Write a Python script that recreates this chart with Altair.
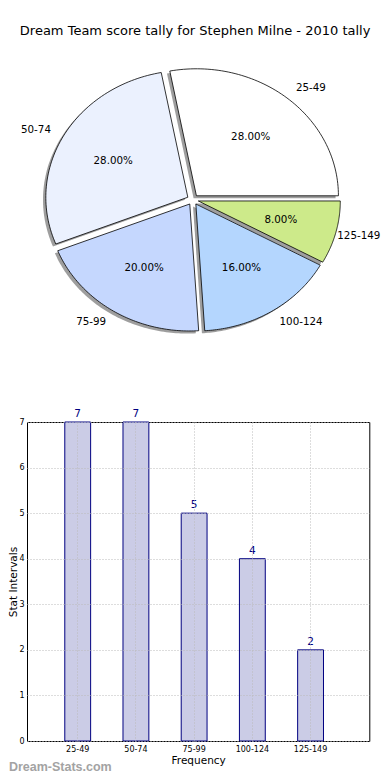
import altair as alt
import pandas as pd

# ---------------- data ----------------
title_text = "Dream Team score tally for Stephen Milne - 2010 tally"
categories = ["25-49", "50-74", "75-99", "100-124", "125-149"]
counts = [7, 7, 5, 4, 2]
slice_colors = ["#ffffff", "#ebf1fe", "#c5d7fe", "#b4d6fe", "#cdea8a"]
x_title = "Frequency"
y_title = "Stat Intervals"
y_ticks = [0, 1, 2, 3, 4, 5, 6, 7]
watermark = "Dream-Stats.com"

df = pd.DataFrame({"label": categories, "value": counts,
                   "idx": list(range(len(categories))), "color": slice_colors})

# ---------------- layout / style ----------------
FONT = "DejaVu Sans"
EXPLODE = 0.04
N = 72
L = 27.7            # page x of the plot-area left edge
RIGHT = 382.0       # keep everything inside the page width
PIE_TOP = 45.0      # page y of the pie panel top
PIE_H = 310.0
PIE_W = RIGHT - L
CX, CY = 193.5, 198.7   # page position of pie centre
RX, RY = 142.0, 127.0   # pixels per unit radius
xmin = -(CX - L) / RX
xmax = xmin + PIE_W / RX
ymax = (CY - PIE_TOP) / RY
ymin = ymax - PIE_H / RY
LABEL_X_LIMIT = (RIGHT - 44 - CX) / RX   # right-hand labels stay on the page

xs = alt.Scale(domain=[xmin, xmax], nice=False, zero=False)
ys = alt.Scale(domain=[ymin, ymax], nice=False, zero=False)

pie_base = (
    alt.Chart(df)
    .transform_joinaggregate(total="sum(value)")
    .transform_window(cum="sum(value)", sort=[alt.SortField("idx")], frame=[None, 0])
    .transform_calculate(a0="2*PI*(datum.cum - datum.value)/datum.total")
    .transform_calculate(a1="2*PI*datum.cum/datum.total")
    .transform_calculate(mid="(datum.a0 + datum.a1)/2")
    .transform_calculate(ex=f"{EXPLODE}*cos(datum.mid)")
    .transform_calculate(ey=f"{EXPLODE}*sin(datum.mid)")
    .transform_calculate(pct="format(datum.value/datum.total, '.2%')")
)

poly = (
    pie_base
    .transform_calculate(k=f"sequence(0, {N + 3})")
    .transform_flatten(["k"])
    .transform_calculate(ang=f"datum.a0 + (datum.a1 - datum.a0) * clamp(datum.k - 1, 0, {N}) / {N}")
    .transform_calculate(px=f"(datum.k == 0 || datum.k == {N + 2}) ? datum.ex : datum.ex + cos(datum.ang)")
    .transform_calculate(py=f"(datum.k == 0 || datum.k == {N + 2}) ? datum.ey : datum.ey + sin(datum.ang)")
    .transform_calculate(sx="datum.px - 0.02")
    .transform_calculate(sy="datum.py - 0.02")
)

shadow = poly.mark_line(strokeOpacity=0, fillOpacity=0.38, interpolate="linear").encode(
    x=alt.X("sx:Q", scale=xs, axis=None),
    y=alt.Y("sy:Q", scale=ys, axis=None),
    order=alt.Order("k:Q"),
    detail="label:N",
    fill=alt.value("black"),
)

slices = poly.mark_line(stroke="black", strokeWidth=0.8, strokeJoin="round",
                        interpolate="linear").encode(
    x=alt.X("px:Q", scale=xs, axis=None),
    y=alt.Y("py:Q", scale=ys, axis=None),
    order=alt.Order("k:Q"),
    detail="label:N",
    fill=alt.Fill("color:N", scale=None),
)

lab = (pie_base
       .transform_calculate(lx=f"min(datum.ex + 1.1*cos(datum.mid), {LABEL_X_LIMIT})")
       .transform_calculate(ly="datum.ey + 1.1*sin(datum.mid)")
       .transform_calculate(tx="datum.ex + 0.6*cos(datum.mid)")
       .transform_calculate(ty="datum.ey + 0.6*sin(datum.mid)"))

lab_right_side = lab.transform_filter("cos(datum.mid) >= 0").mark_text(
    align="left", baseline="middle", font=FONT, fontSize=10.3, color="black"
).encode(x=alt.X("lx:Q", scale=xs, axis=None), y=alt.Y("ly:Q", scale=ys, axis=None), text="label:N")

lab_left_side = lab.transform_filter("cos(datum.mid) < 0").mark_text(
    align="right", baseline="middle", font=FONT, fontSize=10.3, color="black"
).encode(x=alt.X("lx:Q", scale=xs, axis=None), y=alt.Y("ly:Q", scale=ys, axis=None), text="label:N")

pct_text = lab.mark_text(
    align="center", baseline="middle", font=FONT, fontSize=10.3, color="black"
).encode(x=alt.X("tx:Q", scale=xs, axis=None), y=alt.Y("ty:Q", scale=ys, axis=None), text="pct:N")

pie = alt.layer(shadow, slices, lab_right_side, lab_left_side, pct_text).properties(
    width=PIE_W, height=PIE_H, view=alt.ViewBackground(stroke="transparent")
)

# ---------------- bar chart ----------------
BAR_W = 370.0 - L
BAR_H = 319.0
GRID = "#bbbbbb"

xband = alt.Scale(paddingInner=0.556, paddingOuter=0.718, align=0.452)
bar_x = alt.X("label:N", sort=categories, scale=xband,
              axis=alt.Axis(title=x_title, labelAngle=0, labelFontSize=8, labelFont=FONT,
                            labelColor="black", labelPadding=4, ticks=False, domain=False,
                            grid=True, gridColor=GRID, gridDash=[1, 2], gridWidth=1,
                            titleFont=FONT, titleFontSize=10.5, titleFontWeight="normal",
                            titleColor="black", titlePadding=2, zindex=1))
bar_y = alt.Y("value:Q", scale=alt.Scale(domain=[0, 7], nice=False),
              axis=alt.Axis(title=y_title, values=y_ticks, labelFontSize=8, labelFont=FONT,
                            labelColor="black", labelPadding=3, ticks=False, domain=False,
                            grid=True, gridColor=GRID, gridDash=[1, 2], gridWidth=1,
                            titleFont=FONT, titleFontSize=10.5, titleFontWeight="normal",
                            titleColor="black", titlePadding=0, zindex=1))

bars = alt.Chart(df).mark_bar(fill="#cbcce6", stroke="#000080", strokeWidth=1).encode(
    x=bar_x, y=bar_y)
vals = alt.Chart(df).mark_text(baseline="alphabetic", dy=-5, font=FONT, fontSize=10.5,
                               color="#000080").encode(
    x=alt.X("label:N", sort=categories, scale=xband),
    y=alt.Y("value:Q", scale=alt.Scale(domain=[0, 7], nice=False)),
    text="value:Q")

bar_chart = alt.layer(bars, vals).properties(
    width=BAR_W, height=BAR_H,
    view=alt.ViewBackground(stroke="black", strokeWidth=1),
    title=alt.TitleParams(watermark, orient="bottom", anchor="start", frame="bounds",
                          offset=-5, font="Liberation Sans", fontSize=12.5, fontWeight="bold",
                          color="#a3a3a3"),
)

chart = alt.vconcat(
    pie, bar_chart, spacing=66, bounds="flush",
    title=alt.TitleParams(title_text, font=FONT, fontSize=13, fontWeight="normal",
                          color="black", anchor="middle", offset=7.5, dx=0),
    padding={"left": 0, "top": 17, "right": 0, "bottom": 0},
).configure(background="white")

chart.save("out.html", embed_options={"renderer": "svg", "actions": False})
